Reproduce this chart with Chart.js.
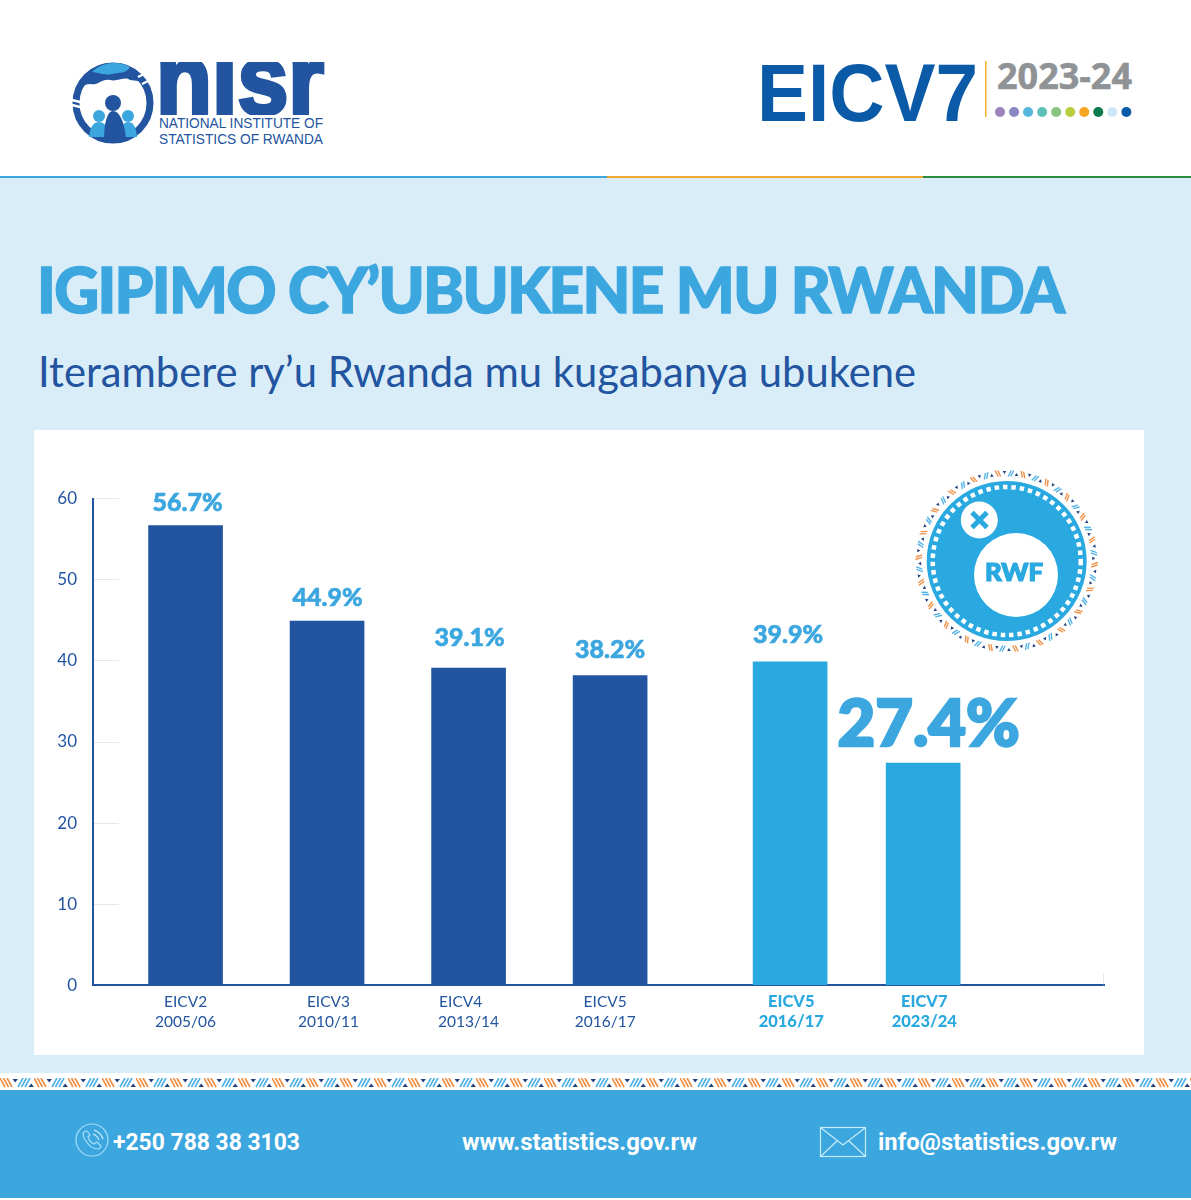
<!DOCTYPE html>
<html>
<head>
<meta charset="utf-8">
<title>Igipimo cy'ubukene mu Rwanda</title>
<script src="https://cdn.jsdelivr.net/npm/chart.js@4"></script>
<style>
  html, body { margin: 0; padding: 0; background: #fff; }
  #page { position: relative; width: 1191px; height: 1200px; overflow: hidden; background: #fff; }
  #art { position: absolute; left: 0; top: 0; }
  #panel { position: absolute; left: 34px; top: 430px; width: 1110px; height: 625px; }
</style>
</head>
<body>
<div id="page">
  <svg id="art" width="1191" height="1200" viewBox="0 0 1191 1200" xmlns="http://www.w3.org/2000/svg">
    <defs>
      <pattern id="strip" x="0" y="1078" width="34" height="10" patternUnits="userSpaceOnUse">
        <path d="M0 0L5 9M3.5 0L8.5 9M7 0L12 9" stroke="#ef9148" stroke-width="1.7" fill="none"/>
        <path d="M12.5 1L18 1L15.2 4.5Z" fill="#23407f"/>
        <path d="M18 9L23 0M21.5 9L26.5 0M25 9L30 0" stroke="#54b3e6" stroke-width="1.7" fill="none"/>
        <path d="M28.5 9L34 9L31.2 5.5Z" fill="#23407f"/>
      </pattern>
      <clipPath id="nisrClip"><rect x="150" y="62" width="180" height="53"/></clipPath>
    </defs>

    <!-- header rule -->
    <rect x="0" y="176" width="607" height="2" fill="#3ca6df"/>
    <rect x="607" y="176" width="316" height="2" fill="#f0a92c"/>
    <rect x="923" y="176" width="268" height="2" fill="#2d8a3e"/>

    <!-- backgrounds -->
    <rect x="0" y="178" width="1191" height="895" fill="#d9edf8"/>
    <rect x="34" y="430" width="1110" height="625" fill="#fff"/>
    <rect x="0" y="1078" width="1191" height="10" fill="url(#strip)"/>
    <rect x="0" y="1090" width="1191" height="108" fill="#3ca6df"/>

    <!-- nisr logo -->
    <circle cx="113" cy="103" r="37" fill="none" stroke="#2254a0" stroke-width="7"/>
    <path d="M77 94C80 76 96 63 113 63C128 63 140 70 146 82L130 80C124 76 118 82 110 80C102 78 98 86 90 84C84 84 80 88 77 94Z" fill="#2254a0"/>
    <path d="M92 72C98 66 106 63 114 63C120 63 125 64 130 67C126 74 120 72 112 74C104 76 98 72 92 72Z" fill="#3ca6df"/>
    <path d="M72 100L84 103M72 105L84 108M138 77L148 72M142 84L152 79" stroke="#fff" stroke-width="2.4"/>
    <circle cx="99" cy="116" r="6" fill="#3ca6df"/>
    <circle cx="128" cy="116" r="6" fill="#3ca6df"/>
    <path d="M89 137C90 126 94 122 99 122C104 122 108 126 110 137Z" fill="#3ca6df"/>
    <path d="M118 137C120 126 124 122 128 122C133 122 136 126 137 137Z" fill="#3ca6df"/>
    <circle cx="113" cy="103" r="8" fill="#2254a0"/>
    <path d="M104 140C104 124 107 111 113 111C120 111 125 124 126 140Z" fill="#2254a0"/>
    <g clip-path="url(#nisrClip)">
      <text x="156" y="114" font-family="Liberation Sans" font-weight="700" font-size="100" fill="#2254a0" stroke="#2254a0" stroke-width="4" textLength="168" lengthAdjust="spacingAndGlyphs">nisr</text>
    </g>
    <text x="159" y="128" font-family="Liberation Sans" font-size="14" fill="#2254a0" textLength="164" lengthAdjust="spacingAndGlyphs">NATIONAL INSTITUTE OF</text>
    <text x="159" y="144" font-family="Liberation Sans" font-size="14" fill="#2254a0" textLength="164" lengthAdjust="spacingAndGlyphs">STATISTICS OF RWANDA</text>

    <!-- EICV7 badge -->
    <text x="757" y="121" font-family="Liberation Sans" font-weight="700" font-size="81" fill="#0b5aa8" textLength="221" lengthAdjust="spacingAndGlyphs">EICV7</text>
    <rect x="985" y="61" width="1.5" height="56" fill="#f0b429"/>
    <text x="997" y="89" font-family="Open Sans" font-weight="700" font-size="36" fill="#8f9396" stroke="#8f9396" stroke-width="0.6" textLength="135" lengthAdjust="spacingAndGlyphs">2023-24</text>
    <g id="dots"></g>

    <!-- headings -->
    <text x="37" y="313" font-family="Lato" font-weight="900" font-size="62" fill="#3ca6df" stroke="#3ca6df" stroke-width="1.5" textLength="1028" lengthAdjust="spacing">IGIPIMO CY’UBUKENE MU RWANDA</text>
    <text x="38" y="387" font-family="Lato" font-weight="400" font-size="42" fill="#2254a0" textLength="878" lengthAdjust="spacingAndGlyphs">Iterambere ry’u Rwanda mu kugabanya ubukene</text>

    <!-- footer -->
    <circle cx="92" cy="1140" r="16" fill="none" stroke="#a5def6" stroke-width="1.2"/>
    <path d="M85 1131C82 1133 83 1137 86 1141C89 1146 94 1149 98 1149C100 1149 101 1147 101 1146L97 1142L94 1144C91 1143 89 1140 88 1137L90 1135L87 1131Z" fill="none" stroke="#a5def6" stroke-width="1.2"/>
    <path d="M93 1134C96 1135 98 1137 99 1140M94 1130C98 1131 102 1135 103 1139" fill="none" stroke="#d5f0fb" stroke-width="1.2"/>
    <text x="113" y="1150" font-family="Roboto" font-weight="700" font-size="24" fill="#fff" textLength="187" lengthAdjust="spacingAndGlyphs">+250 788 38 3103</text>
    <text x="462" y="1150" font-family="Roboto" font-weight="700" font-size="24" fill="#fff" textLength="235" lengthAdjust="spacingAndGlyphs">www.statistics.gov.rw</text>
    <rect x="820.5" y="1127.5" width="45" height="29" fill="none" stroke="#c5ecfa" stroke-width="1.2"/>
    <path d="M820.5 1127.5L843 1145L865.5 1127.5M820.5 1156.5L837 1141M865.5 1156.5L849 1141" fill="none" stroke="#c5ecfa" stroke-width="1.2"/>
    <text x="878" y="1150" font-family="Roboto" font-weight="700" font-size="24" fill="#fff" textLength="239" lengthAdjust="spacingAndGlyphs">info@statistics.gov.rw</text>
  </svg>

  <div id="panel"><canvas id="povertyChart" width="1110" height="625"></canvas></div>

  <!-- RWF medal sits on top of the chart panel -->
  <svg id="medal" width="1191" height="1200" viewBox="0 0 1191 1200" style="position:absolute;left:0;top:0;pointer-events:none" xmlns="http://www.w3.org/2000/svg">
    <g id="medalRim"></g>
    <circle cx="1006.7" cy="561" r="80" fill="#29a9e0"/>
    <circle cx="1006.7" cy="561" r="74" fill="none" stroke="#fff" stroke-width="4.5" stroke-dasharray="4.5 3.9"/>
    <circle cx="979.3" cy="520" r="18.5" fill="#fff"/>
    <path d="M972 512.5L987 527.5M987 512.5L972 527.5" stroke="#29a9e0" stroke-width="5"/>
    <circle cx="1016" cy="575" r="42" fill="#fff"/>
    <text x="1014" y="581" text-anchor="middle" font-family="Lato" font-weight="900" font-size="24" fill="#29a9e0" stroke="#29a9e0" stroke-width="1.2" textLength="58" lengthAdjust="spacingAndGlyphs">RWF</text>
  </svg>
</div>

<script>
// chart data
const surveys = ['EICV2', 'EICV3', 'EICV4    ', 'EICV5', 'EICV5', 'EICV7'];
const years = ['2005/06', '2010/11', '2013/14', '2016/17', '2016/17', '2023/24'];
const poverty = [56.7, 44.9, 39.1, 38.2, 39.9, 27.4];
const yTicks = [0, 10, 20, 30, 40, 50, 60];

// the two survey groups sit unevenly along the axis (1 unit = one bar step)
const barSlots = [0, 1, 2, 3, 4.272, 5.212];
const tickSlots = [0, 1.01, 2, 2.965, 4.28, 5.22];
const slotMin = -0.654, slotMax = 6.49;

// label placement: lift above the bar top, sideways nudge
const labelLift = [23, 23, 30, 26, 27, 38];
const labelNudge = [2, 0.5, 1, 0, -2, 5.5];

const DARK = '#2254a0', LIGHT = '#29a9e0', LABEL = '#3ca6df';
const isNewSeries = i => i >= 4;

// coloured dots under the 2023-24 badge
const dotColors = ['#9a84c0', '#8a86c4', '#56b6dc', '#5cc0b8', '#86c67c', '#b8cc3e', '#f5a623', '#0a7a4a', '#cfe8f8', '#0b5aa8'];
const dotsEl = document.getElementById('dots');
dotColors.forEach((c, i) => {
  dotsEl.innerHTML += `<circle cx="${1000 + i * 14.04}" cy="112" r="5" fill="${c}"/>`;
});

// patterned rim of the medal
let rim = '';
const RIM_STEPS = 22;
for (let i = 0; i < RIM_STEPS; i++) {
  const a = i * 360 / RIM_STEPS;
  const t = 'translate(1006.7 561) rotate(' + a + ') translate(0 -87.5)';
  rim += `<g transform="${t}">
    <path d="M-11.5 -3L-8.5 3M-9 -3L-6 3" stroke="#ef9148" stroke-width="1.4"/>
    <path d="M-4 -2.5L-0.5 -2.5L-2.2 0.5Z" fill="#23407f"/>
    <path d="M1.5 3L4.5 -3M4 3L7 -3" stroke="#54b3e6" stroke-width="1.4"/>
    <path d="M8 2.5L11.5 2.5L9.8 -0.5Z" fill="#23407f"/>
  </g>`;
}
document.getElementById('medalRim').innerHTML = rim;

// value labels above the bars, the last one much bigger
const valueLabels = {
  id: 'valueLabels',
  afterDatasetsDraw(chart) {
    const ctx = chart.ctx;
    const bars = chart.getDatasetMeta(0).data;
    ctx.save();
    ctx.textAlign = 'center';
    ctx.textBaseline = 'middle';
    ctx.fillStyle = LABEL;
    ctx.strokeStyle = LABEL;
    bars.forEach((bar, i) => {
      const big = i === poverty.length - 1;
      const txt = poverty[i].toFixed(1) + '%';
      ctx.font = '900 ' + (big ? 65 : 25) + 'px Lato';
      ctx.lineWidth = big ? 2.5 : 0.6;
      const x = bar.x + labelNudge[i], y = bar.y - labelLift[i];
      ctx.fillText(txt, x, y);
      ctx.strokeText(txt, x, y);
    });
    // little end stop on the x axis
    const xs = chart.scales.x, ys = chart.scales.y;
    ctx.strokeStyle = '#e6e8ea';
    ctx.lineWidth = 1;
    ctx.beginPath();
    ctx.moveTo(xs.right - 0.5, ys.bottom - 12);
    ctx.lineTo(xs.right - 0.5, ys.bottom - 1);
    ctx.stroke();
    ctx.restore();
  }
};

new Chart(document.getElementById('povertyChart'), {
  type: 'bar',
  data: {
    datasets: [{
      data: poverty.map((v, i) => ({ x: barSlots[i], y: v })),
      backgroundColor: poverty.map((_, i) => isNewSeries(i) ? LIGHT : DARK),
      borderWidth: 0,
      barThickness: 74
    }]
  },
  options: {
    responsive: false,
    animation: false,
    layout: { padding: { top: 68.7, right: 40, left: 0, bottom: 0 } },
    plugins: { legend: { display: false }, tooltip: { enabled: false }, title: { display: false } },
    scales: {
      x: {
        type: 'linear',
        offset: false,
        min: slotMin,
        max: slotMax,
        afterBuildTicks: s => { s.ticks = tickSlots.map(v => ({ value: v })); },
        afterFit: s => { s.height = 69.7; },
        grid: { display: false, drawTicks: false },
        border: { color: DARK, width: 2 },
        ticks: {
          autoSkip: false,
          maxRotation: 0,
          padding: 6,
          callback: (v, i) => [surveys[i], years[i]],
          color: c => isNewSeries(c.index) ? LIGHT : DARK,
          font: c => isNewSeries(c.index)
            ? { family: 'Lato', size: 16.5, weight: '900', lineHeight: 1.24 }
            : { family: 'Lato', size: 15.5, weight: '400', lineHeight: 1.32 }
        }
      },
      y: {
        min: 0,
        max: 60,
        afterBuildTicks: s => { s.ticks = yTicks.map(v => ({ value: v })); },
        afterFit: s => { s.width = 59; },
        border: { color: DARK, width: 2 },
        grid: {
          drawOnChartArea: false,
          tickLength: -26,
          tickColor: c => c.tick.value === 0 ? 'rgba(0,0,0,0)' : '#e6e8ea',
          tickWidth: 1
        },
        ticks: {
          padding: 42,
          color: DARK,
          font: { family: 'Lato', size: 17 }
        }
      }
    }
  },
  plugins: [valueLabels]
});
</script>
</body>
</html>
